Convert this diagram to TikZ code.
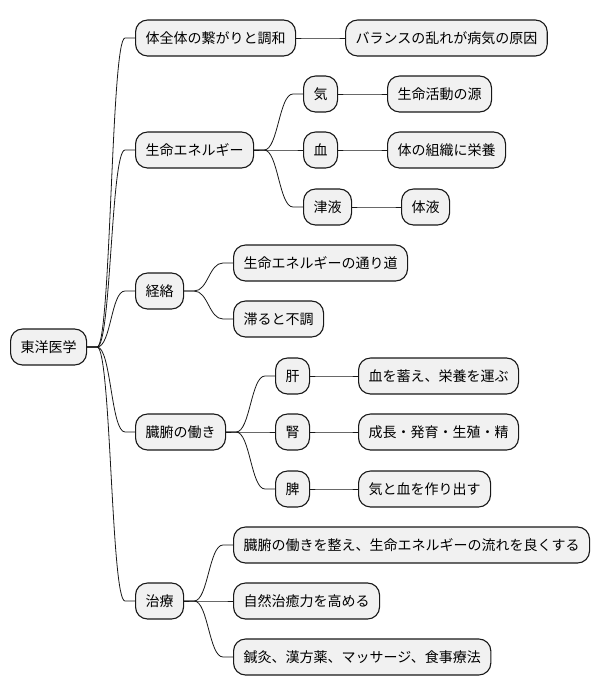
\documentclass[tikz,border=0pt]{standalone}
\usepackage{fontspec}
\setmainfont{Noto Sans CJK JP}
\usetikzlibrary{positioning,calc}
\definecolor{boxfill}{HTML}{F1F1F1}
\definecolor{boxline}{HTML}{181818}

\begin{document}
\begin{tikzpicture}[
  x=1pt, y=-1pt,
  box/.style={draw=boxline, line width=1.1pt, rounded corners=12pt, fill=boxfill, minimum height=36pt, inner xsep=10pt, text height=12pt, text depth=1.5pt, font=\fontsize{14}{16}\selectfont, anchor=west},
  link/.style={draw=boxline, line width=0.8pt, to path={-- ++(10,0) .. controls +(14,0) and +(-14,0) .. ($(\tikztotarget)+(-10,0)$) -- (\tikztotarget)}}
]
\useasboundingbox (0,0) rectangle (600,696);

\node[box] (root) at (10,347) {東洋医学};

% first level
\node[box] (whole) at (135,38) {体全体の繋がりと調和};
\node[box] (energy) at (135,150) {生命エネルギー};
\node[box] (meridian) at (135,291) {経絡};
\node[box] (organs) at (135,432) {臓腑の働き};
\node[box] (therapy) at (135,601) {治療};

% second level
\node[box] (balance) at (345,38) {バランスの乱れが病気の原因};
\node[box] (ki) at (303,94) {気};
\node[box] (ketsu) at (303,150) {血};
\node[box] (shineki) at (303,207) {津液};
\node[box] (path) at (233,263) {生命エネルギーの通り道};
\node[box] (stagnate) at (233,319) {滞ると不調};
\node[box] (liver) at (275,376) {肝};
\node[box] (kidney) at (275,432) {腎};
\node[box] (spleen) at (275,489) {脾};
\node[box] (adjust) at (233,545) {臓腑の働きを整え、生命エネルギーの流れを良くする};
\node[box] (healing) at (233,601) {自然治癒力を高める};
\node[box] (methods) at (233,657) {鍼灸、漢方薬、マッサージ、食事療法};

% third level
\node[box] (source) at (387,94) {生命活動の源};
\node[box] (nourish) at (387,150) {体の組織に栄養};
\node[box] (fluid) at (401,207) {体液};
\node[box] (store) at (358,376) {血を蓄え、栄養を運ぶ};
\node[box] (growth) at (358,432) {成長・発育・生殖・精};
\node[box] (make) at (358,489) {気と血を作り出す};

\draw[link] (root.east) to (whole.west);
\draw[link] (root.east) to (energy.west);
\draw[link] (root.east) to (meridian.west);
\draw[link] (root.east) to (organs.west);
\draw[link] (root.east) to (therapy.west);

\draw[link] (whole.east) to (balance.west);
\draw[link] (energy.east) to (ki.west);
\draw[link] (energy.east) to (ketsu.west);
\draw[link] (energy.east) to (shineki.west);
\draw[link] (ki.east) to (source.west);
\draw[link] (ketsu.east) to (nourish.west);
\draw[link] (shineki.east) to (fluid.west);

\draw[link] (meridian.east) to (path.west);
\draw[link] (meridian.east) to (stagnate.west);

\draw[link] (organs.east) to (liver.west);
\draw[link] (organs.east) to (kidney.west);
\draw[link] (organs.east) to (spleen.west);
\draw[link] (liver.east) to (store.west);
\draw[link] (kidney.east) to (growth.west);
\draw[link] (spleen.east) to (make.west);

\draw[link] (therapy.east) to (adjust.west);
\draw[link] (therapy.east) to (healing.west);
\draw[link] (therapy.east) to (methods.west);
\end{tikzpicture}
\end{document}
